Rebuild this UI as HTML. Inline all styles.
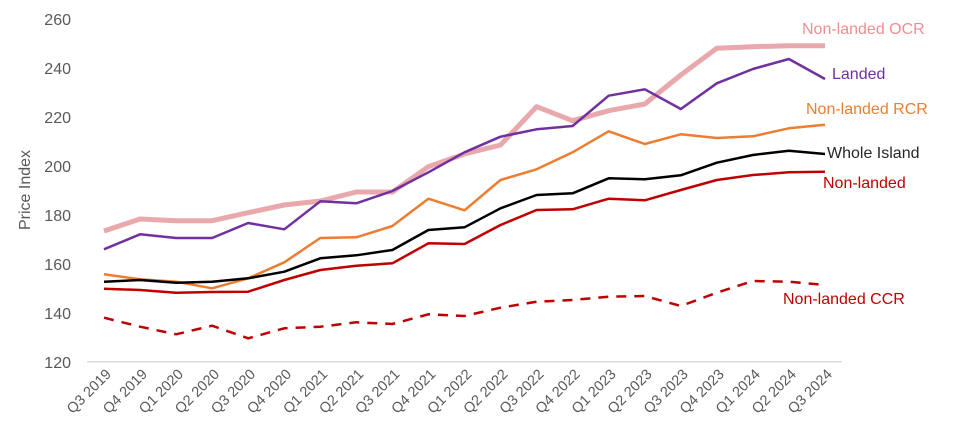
<!DOCTYPE html>
<html><head><meta charset="utf-8"><style>
body{margin:0;background:#fff}
svg{display:block;font-family:"Liberation Sans",sans-serif}
</style></head><body>
<svg id="c" width="956" height="443" viewBox="0 0 956 443" xmlns="http://www.w3.org/2000/svg">
<line x1="87" y1="361.7" x2="842" y2="361.7" stroke="#d9d9d9" stroke-width="1.3"/>
<g font-size="16" fill="#595959" text-anchor="end">
<text x="71" y="25">260</text><text x="71" y="74">240</text><text x="71" y="123">220</text><text x="71" y="172">200</text><text x="71" y="221">180</text><text x="71" y="270">160</text><text x="71" y="319">140</text><text x="71" y="368">120</text>
</g>
<text transform="translate(30,190) rotate(-90)" font-size="16" fill="#595959" text-anchor="middle">Price Index</text>
<g id="xl" font-size="14.5" fill="#595959" text-anchor="end"></g>
<g id="ln" fill="none" stroke-linejoin="round"></g>
<g font-size="16">
<text x="802" y="34" fill="#EE8E93">Non-landed OCR</text>
<text x="832" y="79" fill="#7030A0">Landed</text>
<text x="806" y="114" fill="#ED7D31">Non-landed RCR</text>
<text x="827" y="158" fill="#262626">Whole Island</text>
<text x="823" y="188" fill="#C00000">Non-landed</text>
<text x="783" y="304" fill="#C00000">Non-landed CCR</text>
</g>
</svg>
<script>
var labels=["Q3 2019","Q4 2019","Q1 2020","Q2 2020","Q3 2020","Q4 2020","Q1 2021","Q2 2021","Q3 2021","Q4 2021","Q1 2022","Q2 2022","Q3 2022","Q4 2022","Q1 2023","Q2 2023","Q3 2023","Q4 2023","Q1 2024","Q2 2024","Q3 2024"];
function X(i){return 104+i*36.05;}
var ns="http://www.w3.org/2000/svg";
var xl=document.getElementById("xl");
labels.forEach(function(l,i){var t=document.createElementNS(ns,"text");var x=X(i)+8,y=375;t.setAttribute("transform","translate("+x+","+y+") rotate(-45)");t.textContent=l;xl.appendChild(t);});
var S=[
["#E8A8AC",5,"",[693,657,662,662,638,615,603,576,576,500,462,435,320,362,332,312,225,145,140,137,137]],
["#7030A0",2.5,"",[748,703,714,714,669,688,604,610,573,517,457,410,388,378,287,268,327,250,207,177,237]],
["#ED7D31",2.5,"",[823,838,845,865,835,787,714,712,678,596,631,540,508,457,394,432,403,414,409,385,374]],
["#000000",2.5,"",[845,840,848,845,835,815,775,766,750,690,682,625,585,580,535,538,526,488,465,452,462]],
["#C00000",2.5,"",[866,870,878,876,875,840,810,797,790,730,732,675,630,628,596,601,570,540,525,517,515]],
["#C00000",2.5,"10,8",[953,980,1003,977,1015,985,980,967,972,943,948,923,905,900,890,888,918,878,843,845,855]]
];
var g=document.getElementById("ln");
S.forEach(function(s){var p=document.createElementNS(ns,"polyline");p.setAttribute("points",s[3].map(function(v,i){return X(i).toFixed(1)+","+(v/3).toFixed(1);}).join(" "));p.setAttribute("stroke",s[0]);p.setAttribute("stroke-width",s[1]);if(s[2])p.setAttribute("stroke-dasharray",s[2]);g.appendChild(p);});
</script>
</body></html>
